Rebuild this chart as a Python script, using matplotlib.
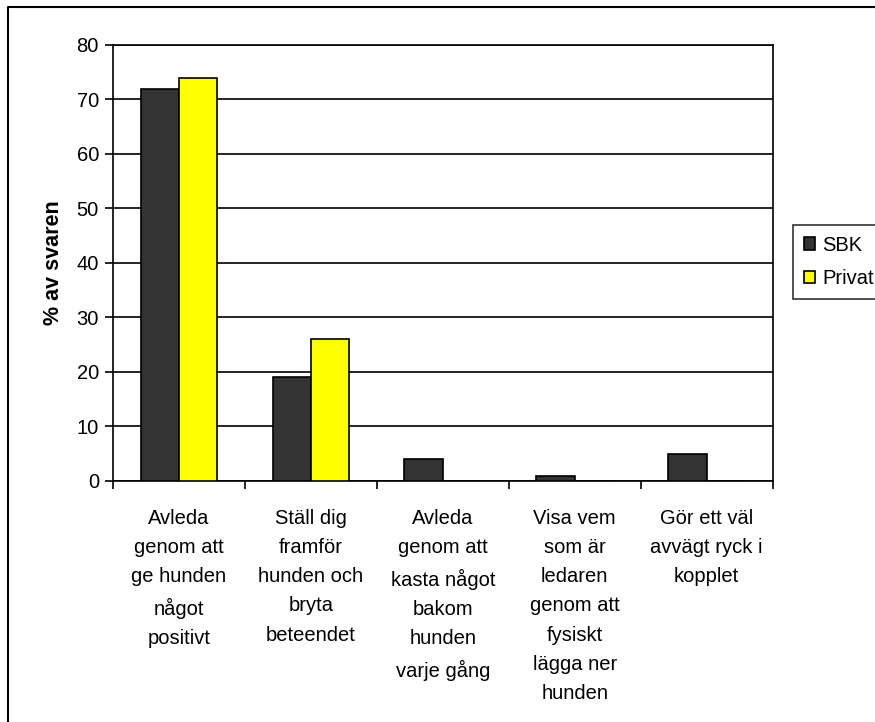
import matplotlib
matplotlib.use("Agg")
import matplotlib.pyplot as plt
import numpy as np
from matplotlib.lines import Line2D

plt.rcParams['font.family'] = ['Liberation Sans', 'DejaVu Sans']

# data
categories = [
    "Avleda\ngenom att\nge hunden\nnågot\npositivt",
    "Ställ dig\nframför\nhunden och\nbryta\nbeteendet",
    "Avleda\ngenom att\nkasta något\nbakom\nhunden\nvarje gång",
    "Visa vem\nsom är\nledaren\ngenom att\nfysiskt\nlägga ner\nhunden",
    "Gör ett väl\navvägt ryck i\nkopplet",
]
sbk = [72, 19, 4, 1, 5]
privat = [74, 26, 0, 0, 0]
series_names = ["SBK", "Privat"]

fs = 14.5

fig = plt.figure(figsize=(8.75, 7.22), dpi=100)
ax = fig.add_axes([0.129, 0.3338, 0.754, 0.604])

x = np.arange(len(categories))
w = 0.29
ax.bar(x - w/2, sbk, width=w, color='#333333', edgecolor='black', linewidth=1.2,
       label=series_names[0], zorder=3)
ax.bar(x + w/2, privat, width=w, color='#ffff00', edgecolor='black', linewidth=1.2,
       label=series_names[1], zorder=3)

ax.set_xlim(-0.5, len(categories) - 0.5)
ax.set_ylim(0, 80)
ax.set_yticks(range(0, 81, 10))
ax.yaxis.grid(True, color='black', linewidth=1.2, zorder=0)
ax.set_axisbelow(True)

ax.set_xticks(x)
ax.set_xticklabels(categories, fontsize=fs, linespacing=1.68, va='top')
ax.tick_params(axis='x', length=0, pad=20)
ax.set_xticks(np.arange(-0.5, len(categories)), minor=True)
ax.tick_params(axis='x', which='minor', length=6, width=1.2, direction='out')
ax.tick_params(axis='y', labelsize=fs, length=6, width=1.2, pad=4)

for s in ax.spines.values():
    s.set_color('black')
    s.set_linewidth(1.2)

ax.set_ylabel("% av svaren", fontsize=15.5, fontweight='bold', labelpad=9)

leg = fig.legend(loc='upper left', bbox_to_anchor=(0.906, 0.689), fontsize=fs,
                 frameon=True, fancybox=False, edgecolor='black',
                 handlelength=0.55, handleheight=0.55, handletextpad=0.35,
                 labelspacing=0.7, borderpad=0.55, borderaxespad=0)
leg.get_frame().set_linewidth(1.2)

# outer chart border
fig.add_artist(Line2D([0.0091, 0.0091, 1.0], [0.0, 0.9903, 0.9903],
                      transform=fig.transFigure, color='black', linewidth=1.5))

fig.savefig("out.png", dpi=100)
